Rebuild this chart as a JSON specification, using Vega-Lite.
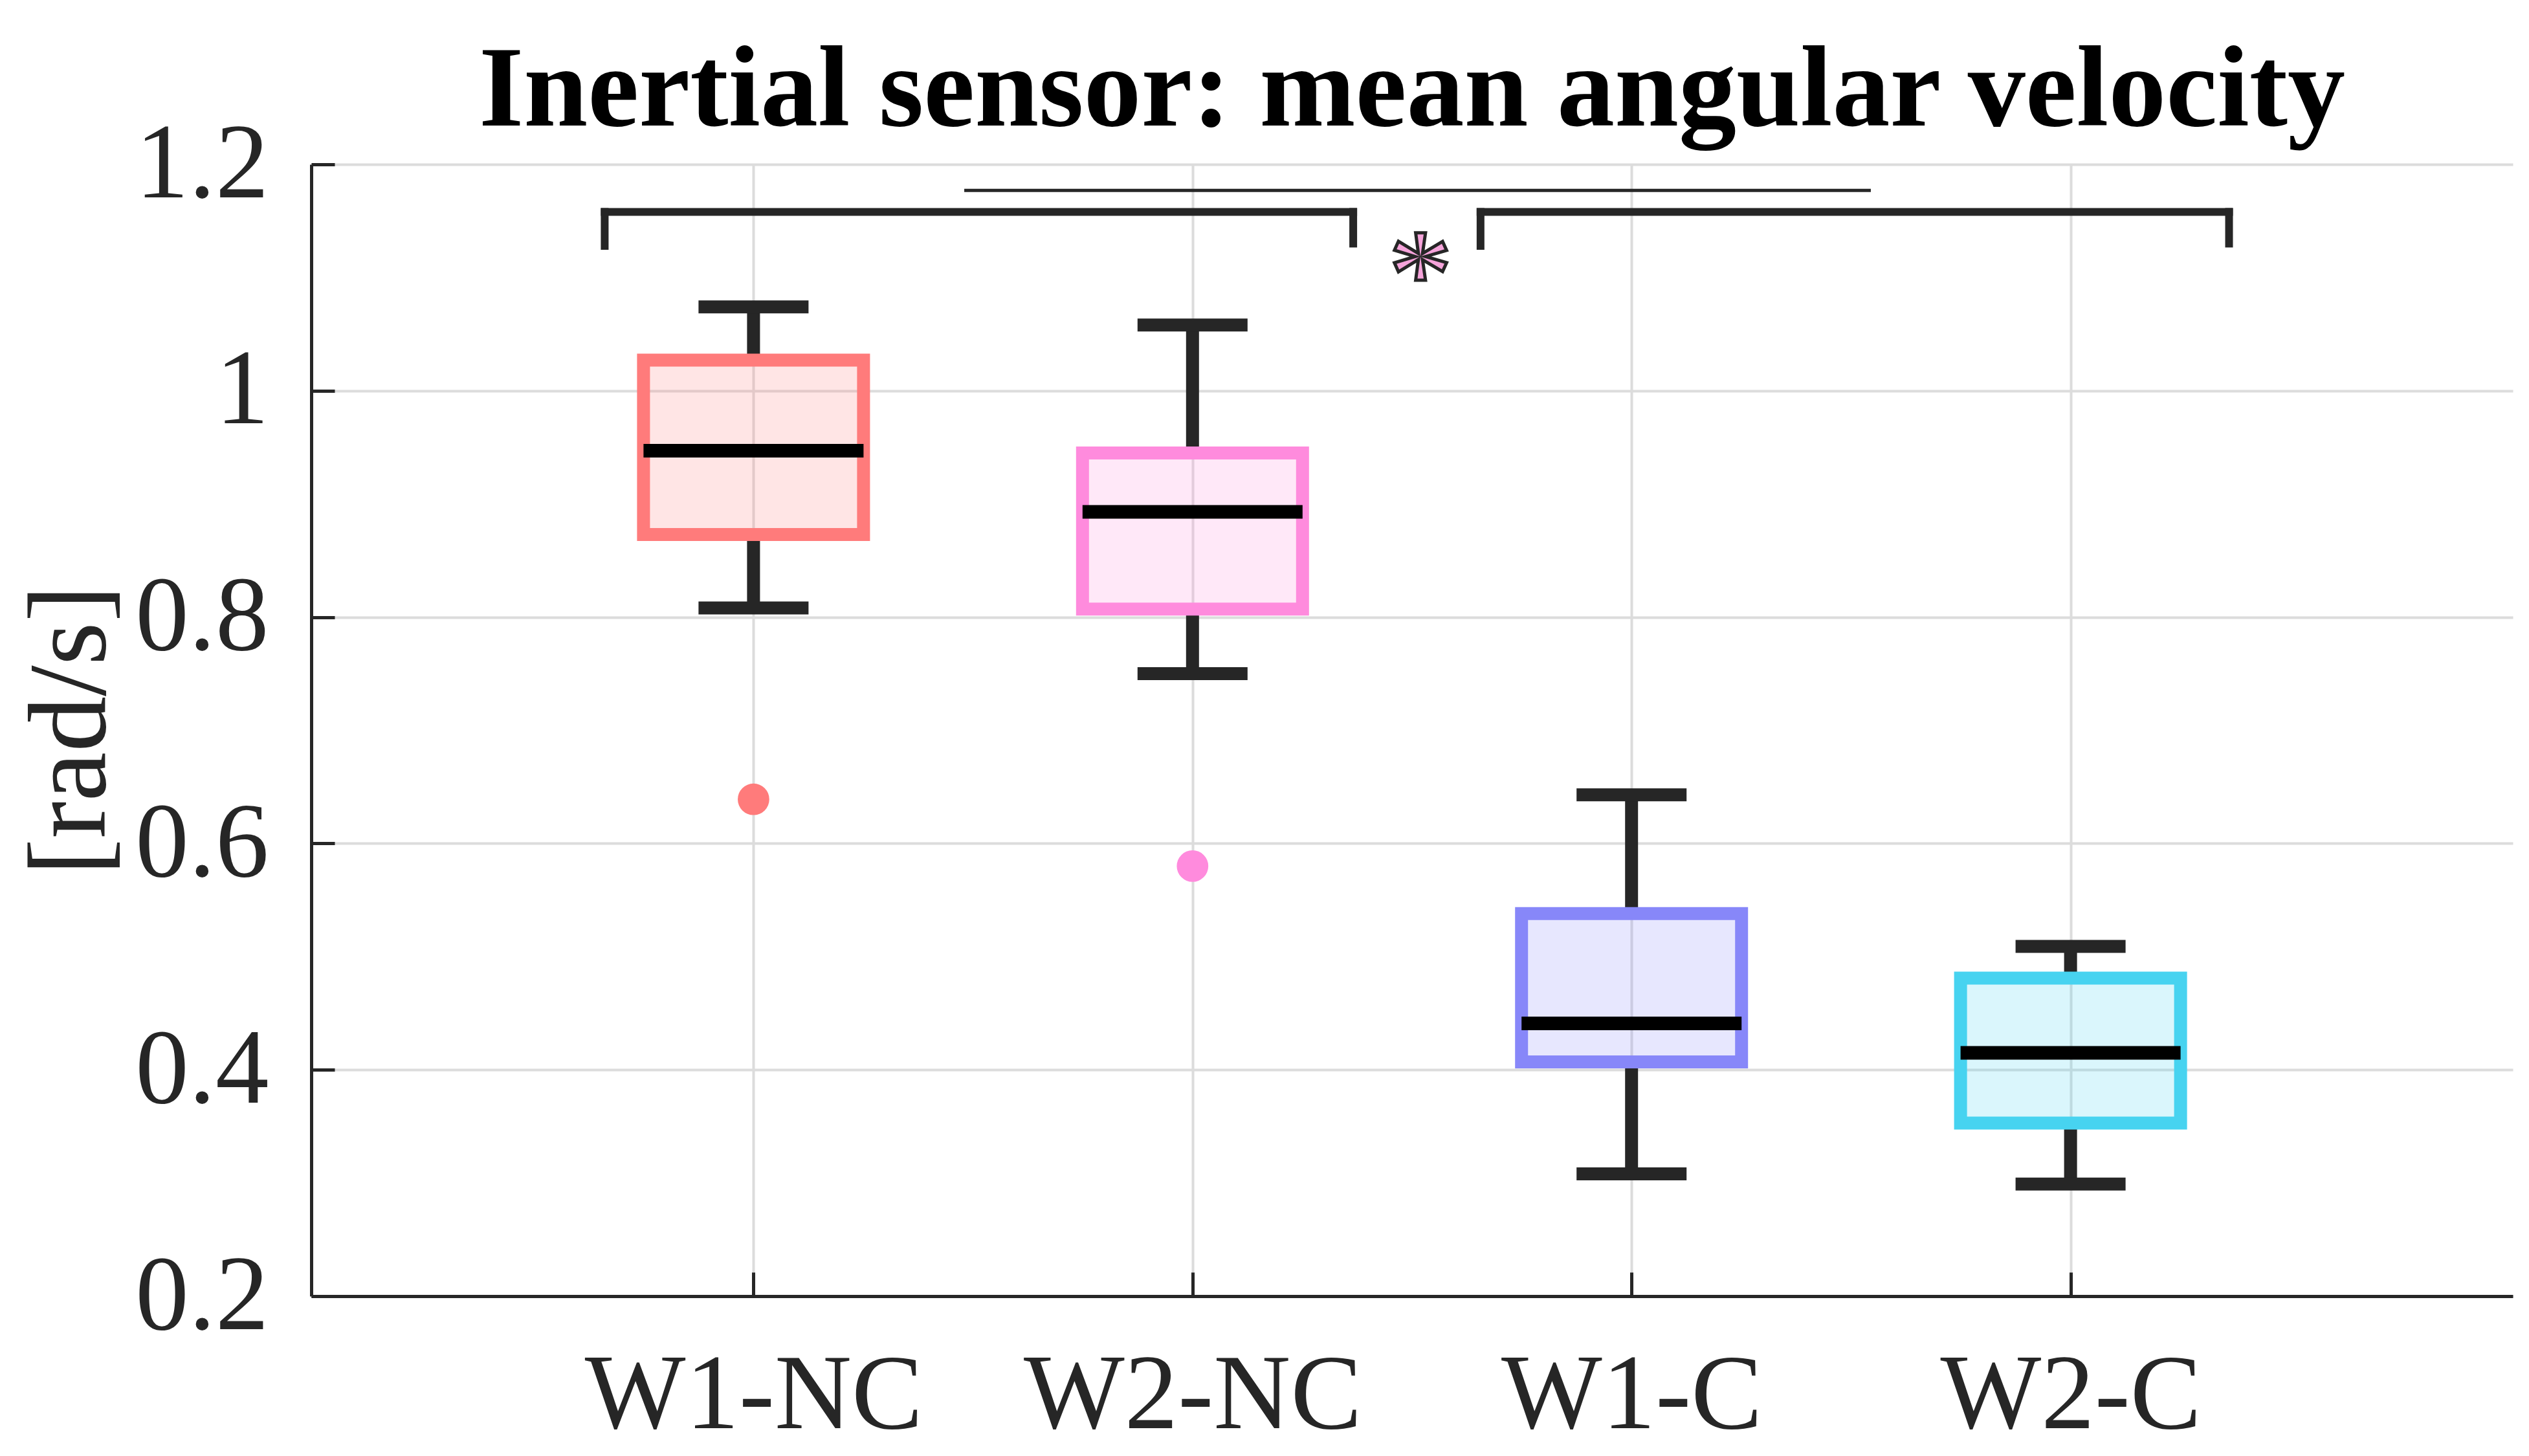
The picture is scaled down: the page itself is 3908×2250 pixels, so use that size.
{
  "$schema": "https://vega.github.io/schema/vega-lite/v6.json",
  "width": 3402,
  "height": 1749,
  "autosize": {"type": "none"},
  "padding": {"left": 481, "top": 254, "right": 25, "bottom": 247},
  "background": "white",
  "title": {
    "text": "Inertial sensor: mean angular velocity",
    "font": "Liberation Serif",
    "fontSize": 178,
    "fontWeight": "bold",
    "color": "#000000",
    "anchor": "middle",
    "frame": "group",
    "baseline": "alphabetic",
    "offset": 0,
    "dy": 200
  },
  "config": {
    "view": {"stroke": null},
    "axis": {
      "labelFont": "Liberation Serif",
      "labelFontSize": 165,
      "labelColor": "#262626",
      "labelOverlap": false,
      "labelFlush": false,
      "labelLimit": 0,
      "titleFont": "Liberation Serif",
      "titleFontSize": 172,
      "titleFontWeight": "normal",
      "titleColor": "#262626",
      "titleLimit": 0,
      "domainColor": "#262626",
      "domainWidth": 5,
      "tickColor": "#262626",
      "tickWidth": 5,
      "gridColor": "#dcdcdc",
      "gridWidth": 4,
      "gridOpacity": 1
    }
  },
  "datasets": {
    "boxes": [
      {"group": "W1-NC", "pos": 1, "lower": 0.808, "q1": 0.873, "median": 0.947, "q3": 1.027, "upper": 1.074},
      {"group": "W2-NC", "pos": 2, "lower": 0.750, "q1": 0.807, "median": 0.893, "q3": 0.945, "upper": 1.058},
      {"group": "W1-C", "pos": 3, "lower": 0.308, "q1": 0.407, "median": 0.441, "q3": 0.538, "upper": 0.643},
      {"group": "W2-C", "pos": 4, "lower": 0.299, "q1": 0.353, "median": 0.415, "q3": 0.481, "upper": 0.509}
    ],
    "outliers": [
      {"group": "W1-NC", "pos": 1, "value": 0.639},
      {"group": "W2-NC", "pos": 2, "value": 0.580}
    ],
    "brackets": [
      {"x": 0.661, "x2": 2.366, "y": 1.158, "y2": 1.158},
      {"x": 2.656, "x2": 4.361, "y": 1.158, "y2": 1.158},
      {"x": 0.661, "x2": 0.661, "y": 1.128, "y2": 1.158},
      {"x": 2.366, "x2": 2.366, "y": 1.130, "y2": 1.158},
      {"x": 2.656, "x2": 2.656, "y": 1.128, "y2": 1.158},
      {"x": 4.361, "x2": 4.361, "y": 1.130, "y2": 1.158}
    ],
    "thin": [
      {"x": 1.480, "x2": 3.545, "y": 1.177, "y2": 1.177}
    ],
    "star": [
      {"x": 2.519, "y": 1.122, "label": "*"}
    ]
  },
  "layer": [
    {
      "data": {"name": "boxes"},
      "mark": {"type": "rule", "strokeWidth": 20, "color": "#262626"},
      "encoding": {
        "x": {
          "field": "pos", "type": "quantitative",
          "scale": {"domain": [0, 5], "nice": false, "zero": false},
          "axis": {
            "values": [1, 2, 3, 4],
            "labelExpr": "['','W1-NC','W2-NC','W1-C','W2-C'][datum.value]",
            "title": null,
            "grid": true,
            "tickSize": -37,
            "labelPadding": 240,
            "labelBaseline": "alphabetic"
          }
        },
        "y": {
          "field": "lower", "type": "quantitative",
          "scale": {"domain": [0.2, 1.2], "nice": false, "zero": false},
          "axis": {
            "values": [0.2, 0.4, 0.6, 0.8, 1, 1.2],
            "format": "~g",
            "title": "[rad/s]",
            "grid": true,
            "tickSize": -36,
            "labelPadding": 102,
            "titleAngle": -90,
            "titleX": -372,
            "titleY": 874,
            "titleBaseline": "middle",
            "titleAlign": "center"
          }
        },
        "y2": {"field": "q1"}
      }
    },
    {
      "data": {"name": "boxes"},
      "mark": {"type": "rule", "strokeWidth": 20, "color": "#262626"},
      "encoding": {
        "x": {"field": "pos", "type": "quantitative"},
        "y": {"field": "q3", "type": "quantitative"},
        "y2": {"field": "upper"}
      }
    },
    {
      "data": {"name": "boxes"},
      "mark": {"type": "tick", "orient": "horizontal", "size": 170, "thickness": 20, "color": "#262626", "opacity": 1},
      "encoding": {
        "x": {"field": "pos", "type": "quantitative"},
        "y": {"field": "lower", "type": "quantitative"}
      }
    },
    {
      "data": {"name": "boxes"},
      "mark": {"type": "tick", "orient": "horizontal", "size": 170, "thickness": 20, "color": "#262626", "opacity": 1},
      "encoding": {
        "x": {"field": "pos", "type": "quantitative"},
        "y": {"field": "upper", "type": "quantitative"}
      }
    },
    {
      "data": {"name": "boxes"},
      "mark": {"type": "bar", "orient": "vertical", "size": 340, "fillOpacity": 0.2, "strokeWidth": 20, "strokeJoin": "miter"},
      "encoding": {
        "x": {"field": "pos", "type": "quantitative"},
        "y": {"field": "q1", "type": "quantitative"},
        "y2": {"field": "q3"},
        "fill": {
          "field": "group", "type": "nominal",
          "scale": {"domain": ["W1-NC", "W2-NC", "W1-C", "W2-C"], "range": ["#FF7B7B", "#FF8BDD", "#8787F9", "#47D3F0"]},
          "legend": null
        },
        "stroke": {
          "field": "group", "type": "nominal",
          "scale": {"domain": ["W1-NC", "W2-NC", "W1-C", "W2-C"], "range": ["#FF7B7B", "#FF8BDD", "#8787F9", "#47D3F0"]},
          "legend": null
        }
      }
    },
    {
      "data": {"name": "boxes"},
      "mark": {"type": "tick", "orient": "horizontal", "size": 340, "thickness": 21, "color": "#000000", "opacity": 1},
      "encoding": {
        "x": {"field": "pos", "type": "quantitative"},
        "y": {"field": "median", "type": "quantitative"}
      }
    },
    {
      "data": {"name": "outliers"},
      "mark": {"type": "point", "filled": true, "size": 2376, "opacity": 1},
      "encoding": {
        "x": {"field": "pos", "type": "quantitative"},
        "y": {"field": "value", "type": "quantitative"},
        "fill": {"field": "group", "type": "nominal", "legend": null}
      }
    },
    {
      "data": {"name": "brackets"},
      "mark": {"type": "rule", "strokeWidth": 12, "color": "#262626", "strokeCap": "square"},
      "encoding": {
        "x": {"field": "x", "type": "quantitative"},
        "x2": {"field": "x2"},
        "y": {"field": "y", "type": "quantitative"},
        "y2": {"field": "y2"}
      }
    },
    {
      "data": {"name": "thin"},
      "mark": {"type": "rule", "strokeWidth": 5, "color": "#262626"},
      "encoding": {
        "x": {"field": "x", "type": "quantitative"},
        "x2": {"field": "x2"},
        "y": {"field": "y", "type": "quantitative"},
        "y2": {"field": "y2"}
      }
    },
    {
      "data": {"name": "star"},
      "mark": {"type": "text", "font": "Liberation Serif", "fontSize": 200, "fill": "#F5A3DA", "stroke": "#262626", "strokeWidth": 5, "baseline": "alphabetic", "align": "center", "dy": 100},
      "encoding": {
        "x": {"field": "x", "type": "quantitative"},
        "y": {"field": "y", "type": "quantitative"},
        "text": {"field": "label"}
      }
    }
  ]
}
